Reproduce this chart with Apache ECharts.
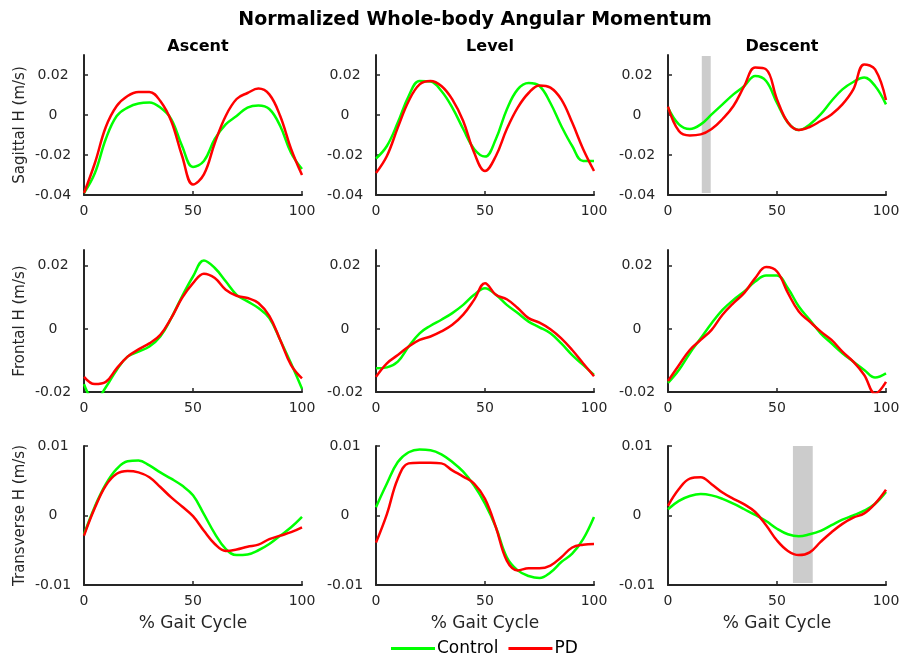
<!DOCTYPE html>
<html>
<head>
<meta charset="utf-8">
<script src="https://cdn.jsdelivr.net/npm/echarts@6/dist/echarts.min.js"></script>
<style>
  html, body { margin: 0; padding: 0; background: #fff; }
  #main { width: 904px; height: 658px; }
</style>
</head>
<body>
<div id="main"></div>
<script>
// % gait cycle sample points
var xPct = [0, 5, 10, 15, 20, 25, 30, 35, 40, 45, 50, 55, 60, 65, 70, 75, 80, 85, 90, 95, 100];

// Sagittal H (m/s)
var ascSagCtrl = [-0.039, -0.029, -0.012, -0.0005, 0.0037, 0.0058, 0.0062, 0.0037, -0.002, -0.0155, -0.026, -0.023, -0.012, -0.0047, -0.0005, 0.0037, 0.0048, 0.003, -0.0055, -0.019, -0.027];
var ascSagPD   = [-0.039, -0.024, -0.006, 0.0045, 0.0095, 0.0115, 0.0115, 0.007, -0.003, -0.0205, -0.0347, -0.0297, -0.014, -0.0005, 0.008, 0.011, 0.0132, 0.0103, -0.0005, -0.017, -0.030];
var lvlSagCtrl = [-0.0218, -0.0155, -0.0038, 0.0095, 0.017, 0.0167, 0.012, 0.0037, -0.007, -0.017, -0.0208, -0.012, 0.0028, 0.0128, 0.016, 0.0145, 0.006, -0.0055, -0.0155, -0.023, -0.023];
var lvlSagPD   = [-0.029, -0.0205, -0.0063, 0.007, 0.0153, 0.017, 0.0145, 0.0078, -0.003, -0.0188, -0.028, -0.0205, -0.007, 0.0037, 0.011, 0.0148, 0.0137, 0.0078, -0.0038, -0.017, -0.028];
var dscSagCtrl = [0.0037, -0.0047, -0.007, -0.0047, 0.0003, 0.0053, 0.0103, 0.0145, 0.0195, 0.017, 0.006, -0.0038, -0.0075, -0.0047, 0.0003, 0.007, 0.0128, 0.0165, 0.0187, 0.0145, 0.0053];
var dscSagPD   = [0.0042, -0.008, -0.0102, -0.0097, -0.007, -0.002, 0.0045, 0.0145, 0.0237, 0.0228, 0.0078, -0.0038, -0.0075, -0.006, -0.003, 0.0003, 0.0053, 0.0128, 0.0253, 0.0228, 0.0075];

// Frontal H (m/s)
var ascFroCtrl = [-0.0175, -0.023, -0.0185, -0.013, -0.0088, -0.0072, -0.0056, -0.0024, 0.0034, 0.0103, 0.0166, 0.0217, 0.0193, 0.0151, 0.0108, 0.0087, 0.0066, 0.0034, -0.0035, -0.011, -0.019];
var ascFroPD   = [-0.0152, -0.0175, -0.0168, -0.0125, -0.0088, -0.0065, -0.0046, -0.0019, 0.0034, 0.0098, 0.0145, 0.0175, 0.0161, 0.0124, 0.0105, 0.0098, 0.0082, 0.0041, -0.0035, -0.0115, -0.0157];
var lvlFroCtrl = [-0.0125, -0.0122, -0.0104, -0.0056, -0.0014, 0.001, 0.0029, 0.005, 0.0076, 0.0108, 0.0129, 0.0108, 0.0076, 0.005, 0.0023, 0.0005, -0.0014, -0.0046, -0.0083, -0.0114, -0.0146];
var lvlFroPD   = [-0.0152, -0.0109, -0.0083, -0.0056, -0.0035, -0.0024, -0.0008, 0.0013, 0.0045, 0.0092, 0.0145, 0.0108, 0.0094, 0.0066, 0.0034, 0.002, -0.0001, -0.003, -0.0067, -0.0109, -0.015];
var dscFroCtrl = [-0.0171, -0.013, -0.0077, -0.003, 0.0018, 0.006, 0.0092, 0.0119, 0.015, 0.0169, 0.0169, 0.0129, 0.0071, 0.0029, -0.0014, -0.0046, -0.0077, -0.0104, -0.013, -0.0154, -0.0141];
var dscFroPD   = [-0.0165, -0.0115, -0.0067, -0.0035, -0.0003, 0.0045, 0.0082, 0.0114, 0.0161, 0.0196, 0.0182, 0.0114, 0.0055, 0.0023, -0.0008, -0.0035, -0.0072, -0.0104, -0.0146, -0.0205, -0.0168];

// Transverse H (m/s)
var ascTraCtrl = [-0.0027, 0.0013, 0.0045, 0.0067, 0.0078, 0.0079, 0.0072, 0.0062, 0.0053, 0.0043, 0.0029, 0.0002, -0.0026, -0.0048, -0.0057, -0.0056, -0.005, -0.0041, -0.0029, -0.0017, -0.0002];
var ascTraPD   = [-0.0029, 0.0011, 0.0043, 0.006, 0.0064, 0.0062, 0.0055, 0.0041, 0.0026, 0.0013, -0.0001, -0.0022, -0.0041, -0.0051, -0.0049, -0.0045, -0.0042, -0.0034, -0.0029, -0.0024, -0.0017];
var lvlTraCtrl = [0.0012, 0.0046, 0.0077, 0.0091, 0.0095, 0.0094, 0.0088, 0.0077, 0.0063, 0.0043, 0.0017, -0.0017, -0.006, -0.0079, -0.0087, -0.009, -0.0082, -0.0067, -0.0055, -0.0034, -0.0002];
var lvlTraPD   = [-0.0039, 0.0002, 0.0053, 0.0075, 0.0076, 0.0076, 0.0075, 0.0065, 0.0056, 0.0046, 0.0024, -0.0017, -0.0065, -0.0079, -0.0076, -0.0076, -0.0072, -0.006, -0.0046, -0.0042, -0.0041];
var dscTraCtrl = [0.0009, 0.0021, 0.0028, 0.0031, 0.0029, 0.0024, 0.0017, 0.0009, 0.0001, -0.0008, -0.0019, -0.0027, -0.003, -0.0027, -0.0022, -0.0014, -0.0006, 0, 0.0007, 0.0017, 0.0034];
var dscTraPD   = [0.0014, 0.0038, 0.0053, 0.0055, 0.0045, 0.0033, 0.0024, 0.0016, 0.0005, -0.0014, -0.0036, -0.0051, -0.0057, -0.0053, -0.0038, -0.0024, -0.0012, -0.0003, 0.0003, 0.0017, 0.0037];

// grey shaded bands [xFrom, xTo, yFrom, yTo]
var dscSagBand = [15.5, 19.6, -0.039, 0.0295];
var dscTraBand = [57.3, 66.4, -0.0097, 0.01];

var colNames = ['Ascent', 'Level', 'Descent'];
var rowNames = ['Sagittal H (m/s)', 'Frontal H (m/s)', 'Transverse H (m/s)'];
var rowMin = [-0.04, -0.02, -0.01];
var rowMax = [0.03, 0.025, 0.01];
var rowTicks = [[-0.04, -0.02, 0, 0.02], [-0.02, 0, 0.02], [-0.01, 0, 0.01]];
var xTicks = [0, 50, 100];

var panels = [
  [ascSagCtrl, ascSagPD], [lvlSagCtrl, lvlSagPD], [dscSagCtrl, dscSagPD],
  [ascFroCtrl, ascFroPD], [lvlFroCtrl, lvlFroPD], [dscFroCtrl, dscFroPD],
  [ascTraCtrl, ascTraPD], [lvlTraCtrl, lvlTraPD], [dscTraCtrl, dscTraPD]
];
var bands = { 2: dscSagBand, 8: dscTraBand };

var FONT = 'DejaVu Sans';
var INK = '#262626';
var colLeft = [84, 376, 668];
var rowTop = [55, 250, 446];
var rowH = [140, 142, 139];

var chart = echarts.init(document.getElementById('main'), null, { renderer: 'canvas' });

var grids = [], xAxes = [], yAxes = [], series = [];

function pairs(arr) {
  return xPct.map(function (x, i) { return [x, arr[i]]; });
}
function fmt(v) { return String(+v.toFixed(3)); }

for (var r = 0; r < 3; r++) {
  for (var c = 0; c < 3; c++) {
    var k = r * 3 + c;
    grids.push({ left: colLeft[c], top: rowTop[r], width: 218, height: rowH[r] });
    xAxes.push({
      type: 'value', gridIndex: k, min: 0, max: 100,
      name: r === 2 ? '% Gait Cycle' : '',
      nameLocation: 'middle', nameGap: 30,
      nameTextStyle: { fontFamily: FONT, fontSize: 17, color: INK },
      axisLine: { onZero: false, lineStyle: { color: INK, width: 2 } },
      axisTick: { inside: true, length: 4, customValues: xTicks, lineStyle: { color: INK, width: 1.5 } },
      axisLabel: { customValues: xTicks, margin: 9, fontFamily: FONT, fontSize: 14, color: INK, formatter: fmt },
      splitLine: { show: false }
    });
    yAxes.push({
      type: 'value', gridIndex: k, min: rowMin[r], max: rowMax[r],
      name: c === 0 ? rowNames[r] : '',
      nameLocation: 'middle', nameGap: 56, nameRotate: 90,
      nameTextStyle: { fontFamily: FONT, fontSize: 15, color: INK },
      axisLine: { show: true, onZero: false, lineStyle: { color: INK, width: 2 } },
      axisTick: { show: true, inside: true, length: 4, customValues: rowTicks[r], lineStyle: { color: INK, width: 1.5 } },
      axisLabel: { customValues: rowTicks[r], align: 'center', margin: 31, fontFamily: FONT, fontSize: 14, color: INK, formatter: fmt },
      splitLine: { show: false }
    });
    var ctrl = {
      name: 'Control', type: 'line', xAxisIndex: k, yAxisIndex: k,
      data: pairs(panels[k][0]), smooth: 0.4, showSymbol: false, clip: true,
      lineStyle: { color: '#00ff00', width: 2.5 }, itemStyle: { color: '#00ff00' }
    };
    if (bands[k]) {
      var b = bands[k];
      ctrl.markArea = {
        silent: true,
        itemStyle: { color: '#cccccc' },
        data: [[{ coord: [b[0], b[2]] }, { coord: [b[1], b[3]] }]]
      };
    }
    series.push(ctrl);
    series.push({
      name: 'PD', type: 'line', xAxisIndex: k, yAxisIndex: k,
      data: pairs(panels[k][1]), smooth: 0.4, showSymbol: false, clip: true,
      lineStyle: { color: '#ff0000', width: 2.5 }, itemStyle: { color: '#ff0000' }
    });
  }
}

var titles = [{
  text: 'Normalized Whole-body Angular Momentum',
  left: 470, top: 6, textAlign: 'center',
  textStyle: { fontFamily: FONT, fontSize: 19, fontWeight: 'bold', color: '#000' }
}];
for (var j = 0; j < 3; j++) {
  titles.push({
    text: colNames[j], left: colLeft[j] + 109, top: 34, textAlign: 'center',
    textStyle: { fontFamily: FONT, fontSize: 16, fontWeight: 'bold', color: '#000' }
  });
}

var option = {
  backgroundColor: '#fff',
  animation: false,
  title: titles,
  legend: {
    data: ['Control', 'PD'],
    left: 386, top: 635,
    icon: 'rect', itemWidth: 44, itemHeight: 3, itemGap: 10,
    textStyle: { fontFamily: FONT, fontSize: 17, color: '#000', padding: [0, 0, 0, -3] }
  },
  grid: grids,
  xAxis: xAxes,
  yAxis: yAxes,
  series: series
};

option && chart.setOption(option);
</script>
</body>
</html>
